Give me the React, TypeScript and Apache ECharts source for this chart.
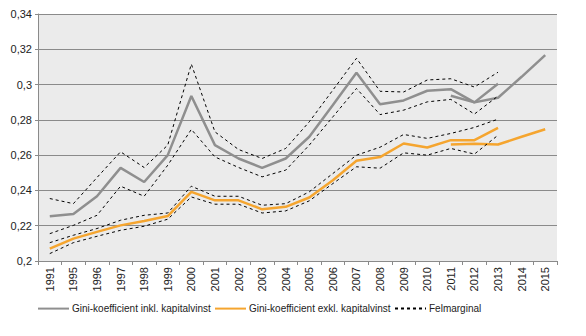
import React, { useEffect, useRef } from "react";
import * as echarts from "echarts";

const categories = ["1991","1995","1996","1997","1998","1999","2000","2001","2002","2003","2004","2005","2006","2007","2008","2009","2010","2011","2012","2013","2014","2015"];

const inkl = [0.2254,0.2267,0.2367,0.2528,0.2448,0.2600,0.2935,0.2657,0.2581,0.2528,0.2581,0.2704,0.2884,0.3067,0.2888,0.2910,0.2965,0.2974,0.2899,0.3005,null,null];
const inklNew = [null,null,null,null,null,null,null,null,null,null,null,null,null,null,null,null,null,0.2937,0.2899,0.2925,0.3044,0.3167];
const inklUpper = [0.2354,0.2325,0.2473,0.2619,0.2530,0.2657,0.3116,0.2732,0.2632,0.2581,0.2638,0.2789,0.2969,0.3149,0.2962,0.2958,0.3026,0.3033,0.2986,0.3070,null,null];
const inklLower = [0.2155,0.2202,0.2259,0.2424,0.2367,0.2543,0.2746,0.2590,0.2530,0.2477,0.2515,0.2657,0.2817,0.2978,0.2830,0.2855,0.2902,0.2916,0.2833,0.2935,null,null];

const exkl = [0.2070,0.2127,0.2165,0.2202,0.2227,0.2255,0.2392,0.2344,0.2344,0.2293,0.2307,0.2360,0.2458,0.2568,0.2589,0.2666,0.2643,0.2685,0.2685,0.2755,null,null];
const exklNew = [null,null,null,null,null,null,null,null,null,null,null,null,null,null,null,null,null,0.2661,0.2664,0.2660,0.2704,0.2747];
const exklUpper = [0.2104,0.2146,0.2184,0.2231,0.2259,0.2272,0.2424,0.2367,0.2367,0.2316,0.2325,0.2392,0.2496,0.2600,0.2645,0.2717,0.2695,0.2723,0.2757,0.2804,null,null];
const exklLower = [0.2042,0.2104,0.2140,0.2174,0.2197,0.2237,0.2363,0.2322,0.2322,0.2272,0.2284,0.2341,0.2439,0.2534,0.2526,0.2613,0.2600,0.2638,0.2606,0.2713,null,null];

const NAME_INKL = "Gini-koefficient inkl. kapitalvinst";
const NAME_EXKL = "Gini-koefficient exkl. kapitalvinst";
const NAME_FEL = "Felmarginal";

const GRAY = "#8f8f8f";
const ORANGE = "#f5a52f";
const FONT = "Liberation Sans, Arial, sans-serif";

export default function App() {
  const ref = useRef<HTMLDivElement>(null);
  useEffect(() => {
    if (!ref.current) return;
    const chart = echarts.init(ref.current, null, { renderer: "svg" });
    const solid = (name: string, data: any[], color: string) => ({
      name, type: "line", data, symbol: "none", connectNulls: false,
      lineStyle: { color, width: 2.5 }, itemStyle: { color }, z: 2,
    });
    const dashed = (data: any[]) => ({
      name: NAME_FEL, type: "line", data, symbol: "none",
      lineStyle: { color: "#000", width: 1, type: [3, 3] }, itemStyle: { color: "#000" }, z: 3,
    });
    const legend = (name: string, left: number) => ({
      data: [name], left, top: 303, padding: 0,
      itemWidth: 31, itemHeight: 14,
      itemStyle: { opacity: 0 },
      textStyle: { fontFamily: FONT, fontSize: 10, color: "#222", padding: [0, 0, 0, -2] },
    });
    chart.setOption({
      animation: false,
      textStyle: { fontFamily: FONT },
      grid: { left: 38, right: 29, top: 14, bottom: 75, show: true, backgroundColor: "#ebebeb", borderWidth: 0 },
      legend: [legend(NAME_INKL, 37), legend(NAME_EXKL, 214), legend(NAME_FEL, 394)],
      xAxis: {
        type: "category", data: categories, boundaryGap: true,
        axisLine: { lineStyle: { color: "#8a8a8a" } },
        axisTick: { show: true, length: 4, lineStyle: { color: "#8a8a8a" } },
        axisLabel: { rotate: 90, fontSize: 11, color: "#222", fontFamily: FONT, margin: 6, interval: 0 },
      },
      yAxis: {
        type: "value", min: 0.2, max: 0.34, interval: 0.02,
        axisLine: { show: true, lineStyle: { color: "#8a8a8a" } },
        axisTick: { show: true, length: 3, lineStyle: { color: "#8a8a8a" } },
        splitLine: { lineStyle: { color: "#8a8a8a", width: 1 } },
        axisLabel: {
          fontSize: 11, color: "#222", fontFamily: FONT, margin: 6,
          formatter: (v: number) => String(+v.toFixed(2)).replace(".", ","),
        },
      },
      series: [
        solid(NAME_INKL, inkl, GRAY),
        solid(NAME_INKL, inklNew, GRAY),
        solid(NAME_EXKL, exkl, ORANGE),
        solid(NAME_EXKL, exklNew, ORANGE),
        dashed(inklUpper),
        dashed(inklLower),
        dashed(exklUpper),
        dashed(exklLower),
      ],
    });
    return () => chart.dispose();
  }, []);
  return <div ref={ref} style={{ width: 586, height: 336, margin: -8 }} />;
}
